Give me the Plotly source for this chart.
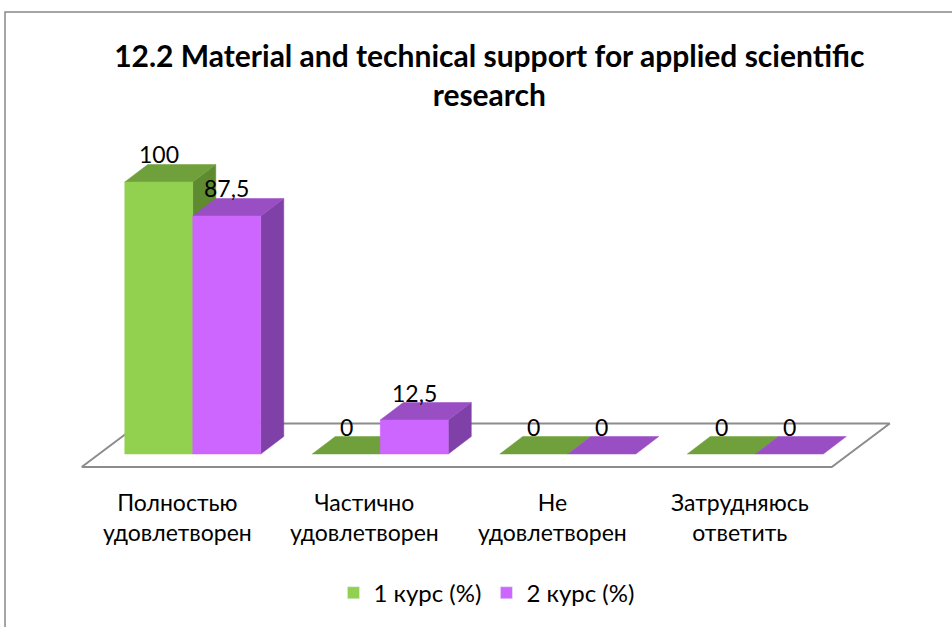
import plotly.graph_objects as go

# ---- data ----
categories = ["Полностью<br>удовлетворен", "Частично<br>удовлетворен", "Не<br>удовлетворен", "Затрудняюсь<br>ответить"]
series_names = ["1 курс (%)", "2 курс (%)"]
course1 = [100, 0, 0, 0]
course2 = [87.5, 12.5, 0, 0]
value_labels1 = ["100", "0", "0", "0"]
value_labels2 = ["87,5", "12,5", "0", "0"]
title_text = "<b>12.2 Material and technical support for applied scientific<br>research</b>"

# ---- style ----
FONT = "Lato, Carlito, 'Open Sans', sans-serif"
front_cols = ["#92D050", "#CC66FF"]
top_cols = ["#70A03C", "#9A4EC4"]
side_cols = ["#5E8A30", "#7F40A8"]
bar_w = 0.3627          # width of one bar in category units
dx, dy = 0.1227, 6.43   # 3-D depth offset (x units, value units)
floor_front = (-0.0923, -4.78)
floor_back = (0.2171, 11.21)

fig = go.Figure()

n = len(categories)
# floor
fx0, fx1 = -0.5, n - 0.5
floor_x = [fx0 + floor_front[0], fx1 + floor_front[0], fx1 + floor_back[0], fx0 + floor_back[0], fx0 + floor_front[0]]
floor_y = [floor_front[1], floor_front[1], floor_back[1], floor_back[1], floor_front[1]]
fig.add_trace(go.Scatter(x=floor_x, y=floor_y, mode="lines", fill="toself", fillcolor="white",
                         line=dict(color="#8C8C8C", width=2), hoverinfo="skip", showlegend=False))

def poly(xs, ys, color):
    fig.add_trace(go.Scatter(x=xs + [xs[0]], y=ys + [ys[0]], mode="lines", fill="toself",
                             fillcolor=color, line=dict(color=color, width=0.5),
                             hoverinfo="skip", showlegend=False))

annots = []
for i in range(n):
    for s, vals, labs in ((0, course1, value_labels1), (1, course2, value_labels2)):
        v = vals[i]
        xl = i - bar_w + s * bar_w
        xr = xl + bar_w
        # side face
        if v > 0:
            poly([xr, xr, xr + dx, xr + dx], [0, v, v + dy, dy], side_cols[s])
        # top face
        poly([xl, xr, xr + dx, xl + dx], [v, v, v + dy, v + dy], top_cols[s])
        # front face
        if v > 0:
            poly([xl, xr, xr, xl], [0, 0, v, v], front_cols[s])
        annots.append(dict(x=(xl + xr) / 2, y=v + dy, text=labs[i], showarrow=False,
                           xanchor="center", yanchor="bottom", yshift=-6,
                           font=dict(family=FONT, size=23, color="black")))

for i, c in enumerate(categories):
    annots.append(dict(x=i + floor_front[0], y=floor_front[1], text=c, showarrow=False,
                       xanchor="center", yanchor="top", yshift=-19, xshift=2,
                       font=dict(family=FONT, size=23, color="black")))

# legend entries
for s in range(2):
    fig.add_trace(go.Bar(x=[None], y=[None], name=series_names[s], marker_color=front_cols[s]))

# axis ranges chosen so one category band = 187.5 px and 1 value unit = 2.72 px
fig.update_xaxes(range=[-1.028, 4.049], visible=False, fixedrange=True)
fig.update_yaxes(range=[-63.6, 166.9], visible=False, fixedrange=True)

fig.update_layout(
    width=952, height=627,
    margin=dict(l=0, r=0, t=0, b=0),
    plot_bgcolor="white", paper_bgcolor="white",
    title=dict(text=title_text, x=0.514, xanchor="center", y=0.893, yanchor="top",
               font=dict(family=FONT, size=30, color="black")),
    annotations=annots,
    showlegend=True,
    legend=dict(orientation="h", x=0.511, xanchor="center", y=0.054, yanchor="middle",
                font=dict(family=FONT, size=24, color="black"), itemwidth=30,
                traceorder="normal", bgcolor="rgba(0,0,0,0)"),
    shapes=[dict(type="rect", xref="paper", yref="paper", x0=5 / 952, x1=1.05, y0=-0.05, y1=1 - 12 / 627,
                 line=dict(color="#888888", width=1.5), layer="above")],
)

fig.write_html("out.html", config={"displayModeBar": False},
               post_script="document.body.style.margin='0';document.body.style.overflow='hidden';")
